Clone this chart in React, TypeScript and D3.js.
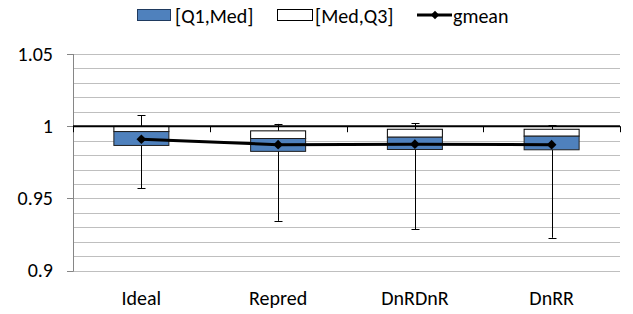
import React from "react";
import * as d3 from "d3";

const categories = ["Ideal", "Repred", "DnRDnR", "DnRR"];
const q1 = [0.9867, 0.9826, 0.9839, 0.9837];
const med = [0.9963, 0.9915, 0.9924, 0.9931];
const q3 = [0.9999, 0.9968, 0.9979, 0.9979];
const wMin = [0.9572, 0.9345, 0.9288, 0.9228];
const wMax = [1.0076, 1.0016, 1.0021, 1.0007];
const gmean = [0.991, 0.9872, 0.9876, 0.9872];
const yTicks = [0.9, 0.95, 1, 1.05];

const W = 633, H = 314;
const FONT = "Carlito, Lato, 'Open Sans', sans-serif";

export default function App() {
  const left = 73, right = 620, top = 54, bottom = 270.7;
  const y = d3.scaleLinear().domain([0.9, 1.05]).range([bottom, top]);
  const x = d3.scaleBand().domain(categories).range([left, right]).paddingInner(0).paddingOuter(0);
  const bw = x.bandwidth();
  const boxW = 55;
  const grid = d3.range(0.9, 1.0501, 0.01);
  const line = d3.line<number>().x((_, i) => x(categories[i])! + bw / 2).y((d) => y(d));
  const blue = "#4F81BD";
  return (
    <svg width={W} height={H} style={{ position: "absolute", left: 0, top: 0 }} fontFamily={FONT}>
      <rect width={W} height={H} fill="#fff" />
      {/* legend */}
      <g>
        <rect x={137.5} y={9.5} width={33} height={11} fill={blue} stroke="#1f3a5f" />
        <text x={175} y={22.5} fontSize={20}>[Q1,Med]</text>
        <rect x={277.5} y={9.5} width={35} height={11} fill="#fff" stroke="#000" />
        <text x={315} y={22.5} fontSize={20}>[Med,Q3]</text>
        <line x1={417} x2={452} y1={15} y2={15} stroke="#000" strokeWidth={3} />
        <path d={d3.symbol(d3.symbolDiamond2, 45)()!} transform="translate(435,15)" fill="#000" />
        <text x={453} y={22.5} fontSize={20}>gmean</text>
      </g>
      {/* gridlines */}
      {grid.map((g, i) => (
        <line key={i} x1={left} x2={right} y1={Math.round(y(g)) + 0.5} y2={Math.round(y(g)) + 0.5} stroke="#BFBFBF" strokeWidth={1} />
      ))}
      {/* y axis */}
      <line x1={left + 0.5} x2={left + 0.5} y1={top} y2={bottom + 1} stroke="#868686" strokeWidth={1} />
      {yTicks.map((t) => (
        <g key={t}>
          <line x1={left - 6} x2={left} y1={Math.round(y(t)) + 0.5} y2={Math.round(y(t)) + 0.5} stroke="#868686" />
          <text x={53} y={y(t) + 6.5} textAnchor="end" fontSize={20} fill="#000">{String(t)}</text>
        </g>
      ))}
      {/* whiskers */}
      {categories.map((c, i) => {
        const cx = Math.round(x(c)! + bw / 2) + 0.5;
        return (
          <g key={c} stroke="#000" strokeWidth={1}>
            <line x1={cx} x2={cx} y1={y(wMax[i])} y2={y(wMin[i])} />
            <line x1={cx - 4} x2={cx + 4} y1={Math.round(y(wMax[i])) + 0.5} y2={Math.round(y(wMax[i])) + 0.5} />
            <line x1={cx - 4} x2={cx + 4} y1={Math.round(y(wMin[i])) + 0.5} y2={Math.round(y(wMin[i])) + 0.5} />
          </g>
        );
      })}
      {/* boxes */}
      {categories.map((c, i) => {
        const bx = x(c)! + bw / 2 - boxW / 2;
        return (
          <g key={c}>
            <rect x={bx} y={y(q3[i])} width={boxW} height={y(med[i]) - y(q3[i])} fill="#fff" stroke="#000" strokeWidth={1} />
            <rect x={bx} y={y(med[i])} width={boxW} height={y(q1[i]) - y(med[i])} fill={blue} stroke="#1f1f1f" strokeWidth={1} />
          </g>
        );
      })}
      {/* category axis at 1 */}
      <line x1={left} x2={right} y1={y(1)} y2={y(1)} stroke="#000" strokeWidth={2} />
      {categories.concat([""]).map((_, i) => {
        const tx = Math.round(left + i * bw) + 0.5;
        return <line key={i} x1={tx} x2={tx} y1={y(1)} y2={y(1) + 6} stroke="#000" strokeWidth={1} />;
      })}
      {/* gmean */}
      <path d={line(gmean)!} fill="none" stroke="#000" strokeWidth={3} />
      {gmean.map((g, i) => (
        <path key={i} d={d3.symbol(d3.symbolDiamond2, 60)()!} transform={`translate(${x(categories[i])! + bw / 2},${y(g)})`} fill="#000" />
      ))}
      {/* category labels */}
      {categories.map((c) => (
        <text key={c} x={x(c)! + bw / 2} y={304.5} textAnchor="middle" fontSize={20}>{c}</text>
      ))}
    </svg>
  );
}
